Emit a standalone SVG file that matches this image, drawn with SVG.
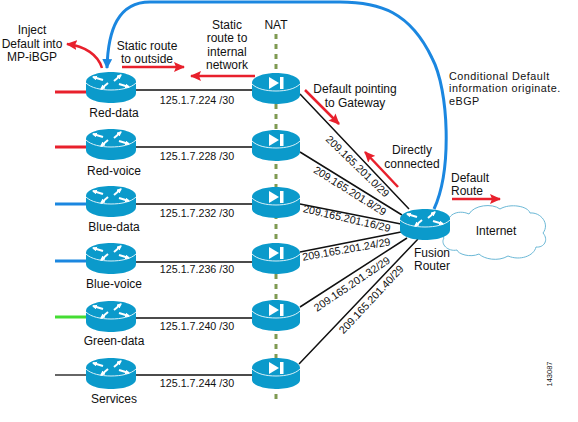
<svg xmlns="http://www.w3.org/2000/svg" width="578" height="422" viewBox="0 0 578 422">
<style>
text{font-family:"Liberation Sans",Arial,sans-serif;font-size:12px;fill:#111;text-anchor:middle}
.s{font-size:10.7px}
.l{text-anchor:start}
.c{font-size:10.8px;letter-spacing:.5px}
.k{stroke:#111;stroke-width:1.5;fill:none}
.r{stroke:#e8202c;stroke-width:3;fill:none}
.a{stroke:#e8202c;stroke-width:2.5;fill:none;marker-end:url(#ar)}
.body{fill:#0b9acb}
.arc{fill:none;stroke:#d8f0f8;stroke-width:1}
.w{fill:#fff}
.ws{stroke:#fff;stroke-width:2;fill:none;marker-end:url(#wa)}
</style>
<defs>
<marker id="ar" markerUnits="userSpaceOnUse" markerWidth="12" markerHeight="10" refX="10" refY="5" orient="auto"><path d="M0 0L11 5L0 10L2 5Z" fill="#e8202c"/></marker>
<marker id="ab" markerUnits="userSpaceOnUse" markerWidth="12" markerHeight="12" refX="9" refY="5" orient="auto"><path d="M0 0L10 5L0 10Z" fill="#1b87e0"/></marker>
<marker id="wa" markerUnits="userSpaceOnUse" markerWidth="6" markerHeight="6" refX="4" refY="2.5" orient="auto"><path d="M0 0L5 2.5L0 5Z" fill="#fff"/></marker>
<g id="router">
<path class="body" d="M-25-5C-25-11-14-15 0-15S25-11 25-5V6C25 12 14 16 0 16S-25 12-25 6Z"/>
<path class="arc" d="M-25-4C-20 1-10 3 0 3S20 1 25-4"/>
<path class="ws" d="M-8-7L-18-10"/>
<path class="ws" d="M8-3L18 0"/>
<path class="ws" d="M3-6L10-12"/>
<path class="ws" d="M-3-4L-10 2"/>
</g>
<g id="nat">
<path class="body" d="M-24-5C-24-11-13-15 0-15S24-11 24-5V7C24 12 13 16 0 16S-24 12-24 7Z"/>
<path class="arc" d="M-24-4C-19 1-10 3 0 3S19 1 24-4"/>
<path class="w" d="M-7-11L3-5L-7 1Z"/><rect class="w" x="4" y="-11" width="3.5" height="12"/>
</g>
</defs>
<g id="connectors">
<path d="M276 34V404" stroke="#7f9a52" stroke-width="3" stroke-dasharray="5 5" fill="none"/>
<path class="k" d="M136 90H252M136 147H252M136 204H252M136 262H252M136 318H252M136 375H252"/>
<path class="r" d="M55 92H86M55 147H86"/>
<path d="M55 204H86M55 261H86" stroke="#1b87e0" stroke-width="3" fill="none"/>
<path d="M55 317H86" stroke="#44dd33" stroke-width="3" fill="none"/>
<path d="M55 375H86" stroke="#333" stroke-width="1.5" fill="none"/>
<path class="k" d="M300 94L409 209M300 152L402 215M300 204L401 224M300 252L401 232M300 307L407 238M299 364L418 239"/>
<path d="M434 209C452 170 449 90 432 58C410 12 380 2 340 2H150C118 2 108 30 107 68" stroke="#1b87e0" stroke-width="3" fill="none" marker-end="url(#ab)"/>
<path class="a" d="M102 68C98 55 85 46 67 44"/>
<path class="a" d="M122 67H184"/>
<path class="a" d="M255 76H191"/>
<path class="a" d="M305 90L339 124"/>
<path class="a" d="M398 187L365 152"/>
<path class="a" d="M452 199H500"/>
</g>
<g id="cloud"><path d="M449 226C445 215 458 209 469 214C474 205 492 203 500 209C510 203 528 206 530 213C541 212 550 224 543 233C549 240 544 248 536 247C534 256 520 261 508 256C498 262 484 259 479 254C470 258 458 254 457 250C448 252 440 244 444 238C440 234 443 228 449 226Z" fill="#fff" stroke="#6bb8d6" stroke-width="1"/><text x="496" y="235">Internet</text></g>
<g id="red-data"><use href="#router" x="111" y="87"/><text x="114" y="117">Red-data</text></g>
<g id="red-voice"><use href="#router" x="111" y="144"/><text x="114" y="175">Red-voice</text></g>
<g id="blue-data"><use href="#router" x="111" y="201"/><text x="114" y="231">Blue-data</text></g>
<g id="blue-voice"><use href="#router" x="111" y="258"/><text x="114" y="288">Blue-voice</text></g>
<g id="green-data"><use href="#router" x="111" y="316"/><text x="114" y="345">Green-data</text></g>
<g id="services"><use href="#router" x="111" y="373"/><text x="114" y="403">Services</text></g>
<g id="nat1"><use href="#nat" x="276" y="88"/></g>
<g id="nat2"><use href="#nat" x="276" y="145"/></g>
<g id="nat3"><use href="#nat" x="276" y="202"/></g>
<g id="nat4"><use href="#nat" x="276" y="258"/></g>
<g id="nat5"><use href="#nat" x="276" y="315"/></g>
<g id="nat6"><use href="#nat" x="276" y="373"/></g>
<g id="fusion"><use href="#router" x="425" y="224"/><text x="432" y="257">Fusion</text><text x="432" y="270">Router</text></g>
<g id="labels">
<text x="32" y="34">Inject</text><text x="32" y="48">Default into</text><text x="32" y="61">MP-iBGP</text>
<text x="147" y="50">Static route</text><text x="147" y="63">to outside</text>
<text x="227" y="29">Static</text><text x="227" y="42">route to</text><text x="227" y="56">internal</text><text x="227" y="69">network</text>
<text x="276" y="29">NAT</text>
<text class="s" x="197" y="104">125.1.7.224 /30</text>
<text class="s" x="197" y="160">125.1.7.228 /30</text>
<text class="s" x="197" y="217">125.1.7.232 /30</text>
<text class="s" x="197" y="273">125.1.7.236 /30</text>
<text class="s" x="197" y="330">125.1.7.240 /30</text>
<text class="s" x="197" y="387">125.1.7.244 /30</text>
<text x="355" y="93">Default pointing</text><text x="355" y="107">to Gateway</text>
<text x="412" y="154">Directly</text><text x="412" y="168">connected</text>
<text class="l c" x="449" y="79.5">Conditional Default</text><text class="l c" x="449" y="92">information originate.</text><text class="l c" x="449" y="104.5">eBGP</text>
<text class="l" x="451" y="182">Default</text><text class="l" x="451" y="195">Route</text>
<text class="s" transform="translate(355 169) rotate(44)">209.165.201.0/29</text>
<text class="s" transform="translate(348 194) rotate(32)">209.165.201.8/29</text>
<text class="s" transform="translate(346 222) rotate(13)">209.165.201.16/29</text>
<text class="s" transform="translate(347 253) rotate(-10)">209.165.201.24/29</text>
<text class="s" transform="translate(354 287) rotate(-34)">209.165.201.32/29</text>
<text class="s" transform="translate(374 302) rotate(-47)">209.165.201.40/29</text>
<text transform="translate(552 374) rotate(-90)" style="font-size:7.5px">143087</text>
</g>
</svg>
